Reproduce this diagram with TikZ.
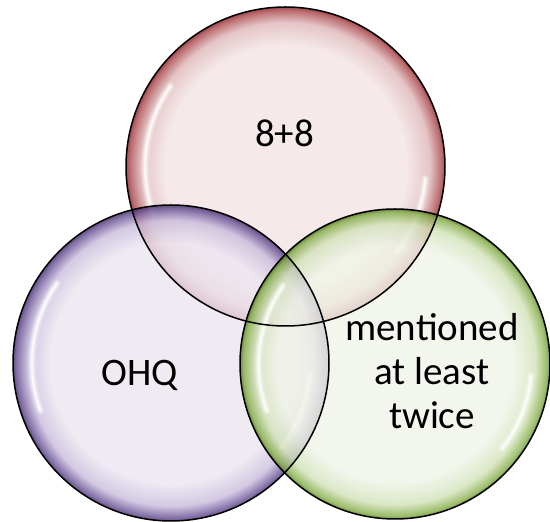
\documentclass[tikz,border=0pt]{standalone}
\usepackage{fontspec}
\setmainfont{Carlito}
\usetikzlibrary{calc}
\definecolor{rIn}{RGB}{242,227,228}
\definecolor{rMid}{RGB}{222,182,184}
\definecolor{rRim}{RGB}{170,70,74}
\definecolor{rEdge}{RGB}{130,30,35}
\definecolor{pIn}{RGB}{236,230,240}
\definecolor{pMid}{RGB}{200,188,220}
\definecolor{pRim}{RGB}{100,75,145}
\definecolor{pEdge}{RGB}{60,40,95}
\definecolor{gIn}{RGB}{240,244,232}
\definecolor{gMid}{RGB}{210,226,185}
\definecolor{gRim}{RGB}{130,172,68}
\definecolor{gEdge}{RGB}{80,115,30}
\pgfdeclareradialshading{redball}{\pgfpoint{0bp}{0bp}}{color(0bp)=(rIn); color(19bp)=(rIn); color(22.6bp)=(rMid); color(24.5bp)=(rRim); color(25bp)=(rEdge); color(50bp)=(rEdge)}
\pgfdeclareradialshading{purpleball}{\pgfpoint{0bp}{0bp}}{color(0bp)=(pIn); color(19bp)=(pIn); color(22.6bp)=(pMid); color(24.5bp)=(pRim); color(25bp)=(pEdge); color(50bp)=(pEdge)}
\pgfdeclareradialshading{greenball}{\pgfpoint{0bp}{0bp}}{color(0bp)=(gIn); color(19bp)=(gIn); color(22.6bp)=(gMid); color(24.5bp)=(gRim); color(25bp)=(gEdge); color(50bp)=(gEdge)}
\newcommand\glint[2]{%
  \foreach \w/\o in {8/0.22,5/0.35,2.5/0.7}{
    \draw[white, line width=\w pt, opacity=\o, line cap=round]
      ($(#1)+(145:#2*0.88)$) arc[start angle=145, end angle=200, radius=#2*0.88];
    \draw[white, line width=\w pt, opacity=\o, line cap=round]
      ($(#1)+(-5:#2*0.88)$) arc[start angle=-5, end angle=-38, radius=#2*0.88];
  }}
\tikzset{
  rim/.style={draw=black, line width=1.5pt},
  label/.style={font=\fontsize{39}{44}\selectfont, text=black, inner sep=0pt}
}
\begin{document}
\begin{tikzpicture}[x=1pt,y=1pt]
\useasboundingbox (0,0) rectangle (550,522);
\coordinate (R) at (285.5,355.5);
\coordinate (P) at (171,159);
\coordinate (G) at (395,158);
\shade[shading=redball, fill opacity=0.8] (R) circle[radius=159.5];
\glint{R}{159.5}
\shade[shading=purpleball, fill opacity=0.8] (P) circle[radius=158];
\glint{P}{158}
\shade[shading=greenball, fill opacity=0.8] (G) circle[radius=155];
\glint{G}{155}
\draw[rim] (R) circle[radius=159.5];
\draw[rim] (P) circle[radius=158];
\draw[rim] (G) circle[radius=155];
\node[label, anchor=base] (t1) at (284.5,375.3) {8+8};
\node[label, anchor=base] (t2) at (139.5,136) {OHQ};
\node[label, align=center] (t3) at (432,150.5) {mentioned\\at least\\twice};
\end{tikzpicture}
\end{document}
